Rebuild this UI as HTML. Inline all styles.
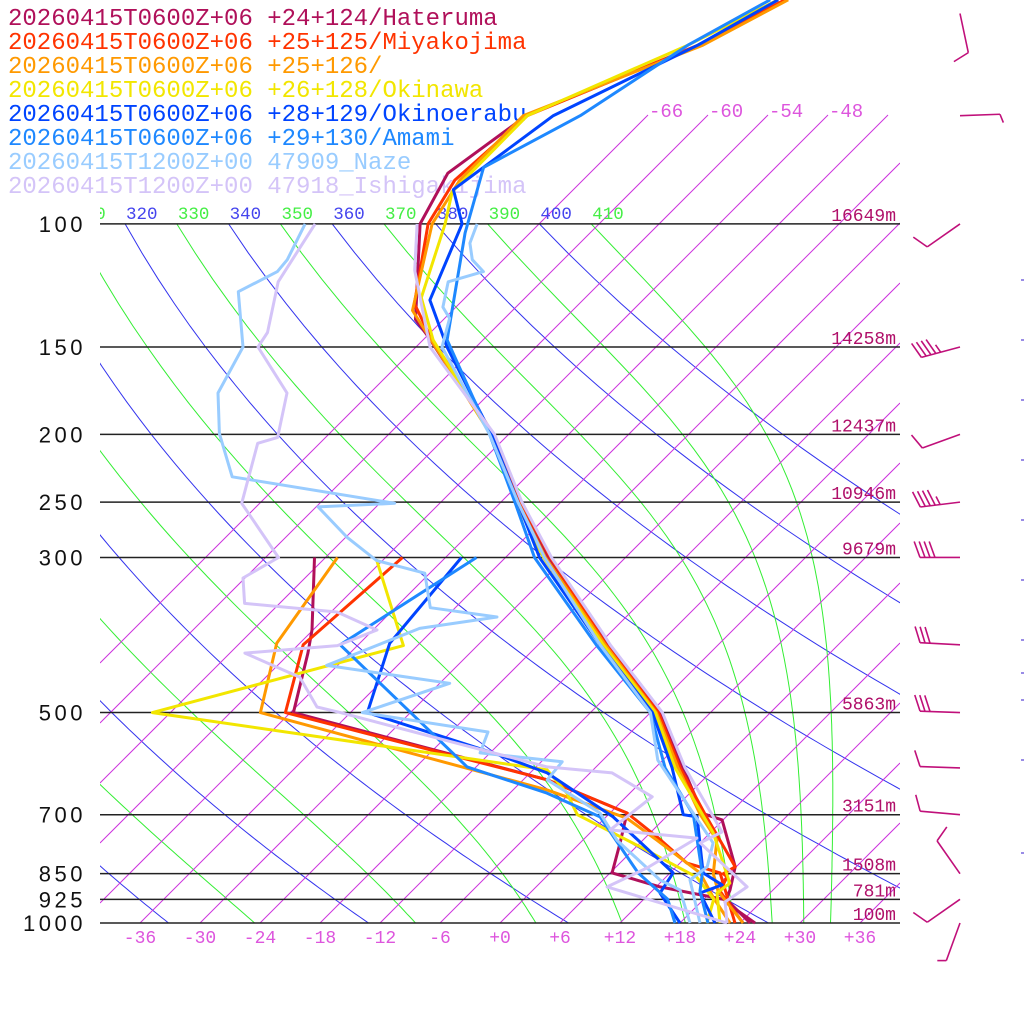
<!DOCTYPE html>
<html><head><meta charset="utf-8"><title>Skew-T sounding</title>
<style>html,body{margin:0;padding:0;background:#fff}svg{display:block}</style></head>
<body>
<svg id="chart" xmlns="http://www.w3.org/2000/svg" width="1024" height="1024" viewBox="0 0 1024 1024">
<defs>
<clipPath id="plotClip"><rect x="100" y="224" width="800" height="699"/></clipPath>
<clipPath id="isoClip"><rect x="100" y="100" width="800" height="823"/></clipPath>
<clipPath id="labClip"><rect x="100" y="190" width="800" height="40"/></clipPath>
</defs>
<rect x="0" y="0" width="1024" height="1024" fill="#fff"/>
<g id="legend" font-family="'Liberation Mono', monospace" font-size="24">
<text x="8" y="25" fill="#b0105a">20260415T0600Z+06 +24+124/Hateruma</text>
<text x="8" y="49" fill="#ff3300">20260415T0600Z+06 +25+125/Miyakojima</text>
<text x="8" y="73" fill="#ff9900">20260415T0600Z+06 +25+126/</text>
<text x="8" y="97" fill="#f2e600">20260415T0600Z+06 +26+128/Okinawa</text>
<text x="8" y="121" fill="#0044ff">20260415T0600Z+06 +28+129/Okinoerabu</text>
<text x="8" y="145" fill="#1e88ff">20260415T0600Z+06 +29+130/Amami</text>
<text x="8" y="169" fill="#99ccff">20260415T1200Z+00 47909_Naze</text>
<text x="8" y="193" fill="#d4c4f8">20260415T1200Z+00 47918_Ishigakijima</text>
</g>
<g id="grid"></g>
<g id="profiles"></g>
<g id="barbs"></g>
</svg>
<script>
// ---- data ----
const pressureLevels = [100,150,200,250,300,500,700,850,925,1000];
const heightLabels = ["16649m","14258m","12437m","10946m","9679m","5863m","3151m","1508m","781m","100m"];
const tempTicks = [-36,-30,-24,-18,-12,-6,0,6,12,18,24,30,36];
const isotherms = [-66,-60,-54,-48,-42,-36,-30,-24,-18,-12,-6,0,6,12,18,24,30,36];
const thetaValues = [210,220,230,240,250,260,270,280,290,300,310,320,330,340,350,360,370,380,390,400,410];

const haterumaTP = [47.8,55.5,70,84.6,100,137,145,200,250,300,400,500,600,697,712,831,897,933,1000];
const haterumaTT = [-63.8,-67.8,-78.1,-80.2,-77.9,-68.8,-65.8,-49.7,-40.1,-31.8,-17.0,-5.0,2.8,9.3,11.9,17.9,19.7,20.4,25.5];
const haterumaDP = [300,381,411,500,624,696,768,848,888,927,1000];
const haterumaDT = [-55.1,-48.1,-46.2,-41.7,-9.6,1.7,4.0,6.2,12.4,20.4,25.0];

const miyakoTP = [47.8,55.5,70,86.6,100,130,145,200,250,300,400,500,600,700,831,850,859,900,925,1000];
const miyakoTT = [-63.8,-68,-78.0,-78.8,-77.1,-70.5,-65.6,-49.5,-40,-31.5,-17.2,-5.2,2.5,9.7,17.9,17.4,18.1,18.8,20.2,24.3];
const miyakoDP = [300,400,500,624,696,753,821,848,1000];
const miyakoDT = [-46.3,-47.5,-42.5,-9.6,1.7,7.1,12.7,17.0,23.5];

const st126TP = [47.8,55.5,70,86.6,100,133,148,200,250,300,400,500,600,700,761,850,900,1000];
const st126TT = [-63.5,-67.5,-78.4,-78.3,-76.7,-70.0,-64.7,-49.8,-40.3,-32,-17.3,-5.4,2.3,9.2,13.4,16.4,18.6,24.3];
const st126DP = [300,398,500,645,708,761,848,918,1000];
const st126DT = [-52.8,-50.3,-45,-8.6,2.2,7.4,15.0,18.7,23.0];

const okinawaTP = [47.8,55.5,70,90,100,127.5,146.5,200,250,300,400,500,600,743,877,906,1000];
const okinawaTT = [-64.5,-69,-78.0,-77.9,-75.4,-70.4,-65.0,-49.8,-40.5,-32.2,-17.5,-5.5,2.0,12.3,19.0,18.7,22.0];
const okinawaDP = [302,401,500,604,652,700,778,860,925,1000];
const okinawaDT = [-48.7,-37.4,-55.8,-10.6,-6.3,-3.1,6.4,15.1,19.0,20.7];

const okinoerabuTP = [47.8,55.5,70,89.3,100,128.5,150,200,250,300,400,500,600,700,705,848,882,906,1000];
const okinoerabuTT = [-64.5,-68,-75.4,-78.0,-73.7,-69.3,-62.9,-49.7,-40.3,-32.6,-17.8,-5.8,1.7,7.5,9.1,15.3,18.4,17.0,21.5];
const okinoerabuDP = [300,398,500,571,610,705,848,906,1000];
const okinoerabuDT = [-40.4,-39.0,-34.3,-17.7,-10.3,0.7,12.3,13.0,18.0];

const amamiTP = [47.8,55.5,70,83,103,146.5,200,250,300,400,500,600,700,850,900,1000];
const amamiTT = [-65.3,-69,-72.7,-77.2,-72.5,-63.6,-49.9,-40.6,-33.1,-18.2,-6,1.0,8.5,15.3,16.8,20.8];
const amamiDP = [300,400,598,652,705,848,925,1000];
const amamiDT = [-38.9,-43.8,-18.9,-8.3,-0.6,8.8,14.4,17.5];

const nazeTP = [100,106.5,112.5,117,121,131.5,136.5,150,200,250,300,400,500,585,768,831,868,1000];
const nazeTT = [-72.2,-71,-69.1,-66.8,-69.3,-67.3,-65.5,-63.4,-49.9,-40.3,-32.1,-17.8,-6.0,-0.5,13.3,15.1,14.7,20.0];
const nazeDP = [100,112.5,117,125,150,174.5,199.5,230,251,254,281,303,316,354,365,379,428,454,500,533,571,588,624,696,761,868,897,1000];
const nazeDT = [-89.4,-87.6,-87.4,-89.3,-83.3,-81.2,-77.0,-71.4,-52.5,-59.8,-53.8,-48.6,-42.5,-38.5,-30.9,-37.5,-43.1,-29.0,-34.8,-20.3,-19.0,-9.9,-9.6,-1.0,3.4,11.7,14.7,19.0];

const ishigakiTP = [100,116.5,150,200,250,300,385,400,500,600,741,768,860,888,933,1000];
const ishigakiTT = [-78.2,-73.8,-64.6,-49.4,-39.9,-31.4,-18.7,-16.8,-4.8,3.0,13.1,12.0,19.1,21.1,20.4,22.7];
const ishigakiDP = [100,121,143,150,174.5,202,206,251,300,321,349,359,381,401,411,445,491,500,598,610,660,736,756,834,888,1000];
const ishigakiDT = [-88.4,-86.3,-82.3,-81.8,-74.3,-70.8,-72.2,-67.8,-58.7,-60.2,-57.5,-47.4,-41.6,-44.0,-52.5,-44.6,-39.9,-37.0,-10.9,-3.8,2.6,1.7,11.2,9.2,7.1,22.7];

const barbPressures = [50,70,100,150,200,250,300,400,500,600,700,850,925,1000];
const barbDirections = [168,88,235,255,250,263,270,273,272,272,275,325,235,200];
const barbSpeeds = [10,5,10,45,10,45,40,30,30,10,10,10,10,5];

// ---- axes ----
const NS = "http://www.w3.org/2000/svg";
function yP(p){ return 923 - 303.6*Math.log(1000/p); }
function xT(t,p){ return 500 + 10*t + (923 - yP(p)); }
function mk(tag, attrs, parent){ const e=document.createElementNS(NS,tag); for(const k in attrs) e.setAttribute(k,attrs[k]); parent.appendChild(e); return e; }

const grid = document.getElementById('grid');
const gAd = mk('g',{'clip-path':'url(#plotClip)'},grid);


const gIso = mk('g',{'clip-path':'url(#isoClip)'},grid);


const gLab = mk('g',{'clip-path':'url(#labClip)'},grid);

isotherms.forEach(function(t){
  let x0 = 500+10*t, y0 = 923;
  if (x0 < 100){ y0 = 923-(100-x0); x0 = 100; }
  let x1 = 500+10*t+808, y1 = 115;
  if (x1 > 900){ const d = 900-500-10*t; y1 = 923-d; x1 = 900; }
  if (y1 >= y0) return;
  const l = mk('line',{x1:x0,y1:y0,x2:x1,y2:y1,stroke:'#cc33dd','stroke-width':1},gIso);
  
  
  if (y1 === 115 && x1 + 36 < 900){
    const tx = mk('text',{x:x1+1,y:117,fill:'#dd55dd','font-family':"'Liberation Mono', monospace",'font-size':19},grid);
    tx.textContent = String(t);
    
    
  }
});

function moistDT(T,p){
  const es = 6.112*Math.exp(17.67*(T-273.15)/(T-29.65));
  const rs = 0.622*es/Math.max(p-es,1);
  return (287*T + 2.5e6*rs)/(p*(1005 + 2.5e6*2.5e6*rs*0.622/(287*T*T)));
}
thetaValues.forEach(function(th){
  const isMoist = (th % 20) === 10;
  const pts = [];
  if (isMoist){
    let p = 100, T = th*Math.pow(0.1,0.2857);
    pts.push([p,T]);
    while (p < 1000){
      const dp = 2;
      const k1 = moistDT(T,p);
      const k2 = moistDT(T+k1*dp/2, p+dp/2);
      T += k2*dp; p += dp;
      if (Math.round(p) % 10 === 0) pts.push([p,T]);
    }
  } else {
    for (let p=100; p<=1000; p+=10) pts.push([p, th*Math.pow(p/1000,0.2857)]);
  }
  const d = pts.map(function(q){ return xT(q[1]-273.15,q[0]).toFixed(1)+','+yP(q[0]).toFixed(1); }).join(' ');
  const pl = mk('polyline',{points:d,fill:'none',stroke:isMoist?'#33ee33':'#3333ee','stroke-width':1},gAd);
  
  
  const lx = xT(th*Math.pow(0.1,0.2857)-273.15,100);
  const tx = mk('text',{x:lx+1,y:219,fill:isMoist?'#44ee44':'#4444ee','font-family':"'Liberation Mono', monospace",'font-size':17.5},gLab);
  tx.textContent = String(th);
  
  
});

pressureLevels.forEach(function(p,i){
  const y = yP(p);
  const l = mk('line',{x1:100,y1:y,x2:900,y2:y,stroke:'#222','stroke-width':1.5},grid);
  
  
  const t = mk('text',{x:86,y:y+8,'text-anchor':'end',fill:'#111','font-family':"'Liberation Sans', sans-serif",'font-size':22,'letter-spacing':3.5},grid);
  t.textContent = String(p);
  
  
  const h = mk('text',{x:896,y:y-3,'text-anchor':'end',fill:'#b0106a','font-family':"'Liberation Mono', monospace",'font-size':18},grid);
  h.textContent = heightLabels[i];
  
  
});

tempTicks.forEach(function(t){
  const tx = mk('text',{x:xT(t,1000),y:943,'text-anchor':'middle',fill:'#dd55dd','font-family':"'Liberation Mono', monospace",'font-size':18},grid);
  tx.textContent = (t>=0?'+':'') + t;
  
  
});

const prof = document.getElementById('profiles');
const series = [
  ['hateruma','#b0105a',haterumaTP,haterumaTT,haterumaDP,haterumaDT],
  ['miyakojima','#ff3300',miyakoTP,miyakoTT,miyakoDP,miyakoDT],
  ['station-126','#ff9900',st126TP,st126TT,st126DP,st126DT],
  ['okinawa','#f2e600',okinawaTP,okinawaTT,okinawaDP,okinawaDT],
  ['okinoerabu','#0044ff',okinoerabuTP,okinoerabuTT,okinoerabuDP,okinoerabuDT],
  ['amami','#1e88ff',amamiTP,amamiTT,amamiDP,amamiDT],
  ['naze','#99ccff',nazeTP,nazeTT,nazeDP,nazeDT],
  ['ishigakijima','#d4c4f8',ishigakiTP,ishigakiTT,ishigakiDP,ishigakiDT]
];
function linePts(P,T){ return P.map(function(p,i){ return xT(T[i],p).toFixed(1)+','+yP(p).toFixed(1); }).join(' '); }
series.forEach(function(s){
  const g = mk('g',{},prof);
  
  
  const a = mk('polyline',{points:linePts(s[4],s[5]),fill:'none',stroke:s[1],'stroke-width':3,'stroke-linejoin':'round'},g);
  
  
  const b = mk('polyline',{points:linePts(s[2],s[3]),fill:'none',stroke:s[1],'stroke-width':3,'stroke-linejoin':'round'},g);
  
  
});

const gb = document.getElementById('barbs');


barbPressures.forEach(function(p,i){
  const ox = 960, oy = yP(p);
  const a = barbDirections[i]*Math.PI/180;
  const sx = Math.sin(a), sy = -Math.cos(a);
  const L = 40;
  const ex = ox+sx*L, ey = oy+sy*L;
  const g = mk('g',{stroke:'#c0107a','stroke-width':1.6,fill:'none'},gb);
  
  
  mk('line',{x1:ox,y1:oy,x2:ex,y2:ey},g);
  const ang = 70*Math.PI/180;
  const fx = Math.cos(ang)*sx + Math.sin(ang)*(-sy);
  const fy = Math.cos(ang)*sy + Math.sin(ang)*(sx);
  let spd = barbSpeeds[i], k = 0;
  while (spd >= 10){
    const bx = ex - sx*k*5, by = ey - sy*k*5;
    mk('line',{x1:bx,y1:by,x2:bx+fx*17,y2:by+fy*17},g);
    spd -= 10; k++;
  }
  if (spd >= 5){
    const bx = ex - sx*(k===0?0:k*5), by = ey - sy*(k===0?0:k*5);
    mk('line',{x1:bx,y1:by,x2:bx+fx*9,y2:by+fy*9},g);
  }
});
const tickYs = [280,340,400,460,520,580,640,673,700,760,853];
tickYs.forEach(function(y){
  const t = mk('line',{x1:1021,y1:y,x2:1024,y2:y,stroke:'#7766dd','stroke-width':1.5},gb);
  
  
});
</script>
</body></html>
